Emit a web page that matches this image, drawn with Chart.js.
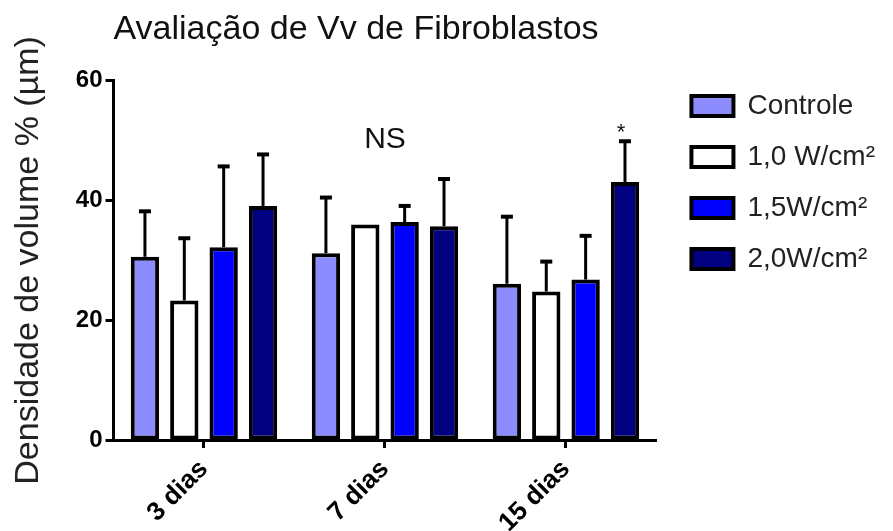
<!DOCTYPE html>
<html>
<head>
<meta charset="utf-8">
<script src="https://cdn.jsdelivr.net/npm/chart.js@4/dist/chart.umd.min.js"></script>
<style>
  html, body { margin: 0; padding: 0; background: #fff; }
  #wrap { width: 893px; height: 531px; }
</style>
</head>
<body>
<div id="wrap"><canvas id="chartFibroblastos"></canvas></div>
<script>
const dias = ['3 dias', '7 dias', '15 dias'];
const grupos = ['Controle', '1,0 W/cm²', '1,5W/cm²', '2,0W/cm²'];

// médias
const controle = [30.6, 31.2, 26.1];
const w10 = [23.3, 36.0, 24.8];
const w15 = [32.2, 36.4, 26.8];
const w20 = [39.1, 35.7, 43.1];

// desvio (só a parte de cima)
const dpControle = [7.6, 9.3, 11.2];
const dpW10 = [10.4, 0, 5.0];
const dpW15 = [13.5, 2.7, 7.3];
const dpW20 = [8.6, 7.9, 6.8];

const yTicks = [0, 20, 40, 60];

const cores = ['#8c8cff', '#ffffff', '#0000ff', '#000080'];
const fonte = "'Liberation Sans', Arial, sans-serif";

const errorBars = {
    id: 'errorBars',
    afterDatasetsDraw(chart) {
        const { ctx } = chart;
        const y = chart.scales.y;
        chart.data.datasets.forEach((ds, i) => {
            const meta = chart.getDatasetMeta(i);
            meta.data.forEach((bar, j) => {
                const sd = ds.erros[j];
                if (!sd) return;
                const topo = y.getPixelForValue(ds.data[j] + sd);
                ctx.save();
                ctx.strokeStyle = '#000';
                ctx.lineWidth = 3;
                ctx.beginPath();
                ctx.moveTo(bar.x, bar.y);
                ctx.lineTo(bar.x, topo);
                ctx.stroke();
                ctx.lineWidth = 4;
                ctx.beginPath();
                ctx.moveTo(bar.x - 6, topo);
                ctx.lineTo(bar.x + 6, topo);
                ctx.stroke();
                ctx.restore();
            });
        });
    }
};

const anotacoes = {
    id: 'anotacoes',
    afterDatasetsDraw(chart) {
        const { ctx } = chart;
        const x = chart.scales.x;
        const y = chart.scales.y;
        ctx.save();
        ctx.fillStyle = '#111';
        ctx.textAlign = 'center';
        ctx.textBaseline = 'middle';
        ctx.font = '30px ' + fonte;
        ctx.fillText('NS', x.getPixelForValue(1), y.getPixelForValue(50.2));

        const bar = chart.getDatasetMeta(3).data[2];
        const topo = y.getPixelForValue(w20[2] + dpW20[2]);
        ctx.font = '22px ' + fonte;
        ctx.textBaseline = 'alphabetic';
        ctx.fillText('*', bar.x - 4, topo - 2);
        ctx.restore();
    }
};

// legenda mais larga (afasta o gráfico) e depois empurrada para a direita
const ajusteLegenda = {
    id: 'ajusteLegenda',
    beforeLayout(chart) {
        const lg = chart.legend;
        if (!lg || lg._ajustada) return;
        lg._ajustada = true;
        const fitOriginal = lg.fit;
        lg.fit = function () {
            fitOriginal.call(this);
            this.width += 20;
        };
    },
    afterLayout(chart) {
        const lg = chart.legend;
        if (!lg) return;
        lg.left += 12;
        lg.right += 12;
    }
};

const series = [controle, w10, w15, w20];
const erros = [dpControle, dpW10, dpW15, dpW20];

new Chart(document.getElementById('chartFibroblastos'), {
    type: 'bar',
    data: {
        labels: dias,
        datasets: grupos.map((g, i) => ({
            label: g,
            data: series[i],
            erros: erros[i],
            backgroundColor: cores[i],
            borderColor: '#000',
            borderWidth: 4,
            borderSkipped: false,
            barPercentage: 0.72,
            categoryPercentage: 0.87
        }))
    },
    options: {
        responsive: true,
        maintainAspectRatio: false,
        animation: false,
        layout: { padding: { left: 8, bottom: 0, right: 0 } },
        plugins: {
            title: {
                display: true,
                text: 'Avaliação de Vv de Fibroblastos',
                align: 'start',
                fullSize: false,
                color: '#111',
                font: { family: fonte, size: 34, weight: 'normal' },
                padding: { top: 9, bottom: 31 }
            },
            legend: {
                position: 'right',
                align: 'start',
                title: {
                    display: true,
                    text: '',
                    font: { size: 10 },
                    padding: { top: 0, bottom: 57 }
                },
                labels: {
                    boxWidth: 42,
                    boxHeight: 20,
                    padding: 23,
                    color: '#222',
                    font: { family: fonte, size: 28 }
                }
            },
            tooltip: { enabled: false }
        },
        scales: {
            x: {
                offset: true,
                afterFit: axis => { axis.height = 91; },
                grid: {
                    display: true,
                    offset: false,
                    drawOnChartArea: false,
                    drawTicks: true,
                    tickLength: 8,
                    tickWidth: 3,
                    tickColor: '#000'
                },
                border: { display: true, color: '#000', width: 3 },
                ticks: {
                    color: '#000',
                    maxRotation: 45,
                    minRotation: 45,
                    padding: 6,
                    font: { family: fonte, size: 26, weight: 'bold' }
                }
            },
            y: {
                min: 0,
                max: 60,
                afterBuildTicks: axis => {
                    axis.ticks = yTicks.map(v => ({ value: v }));
                },
                grid: {
                    display: true,
                    drawOnChartArea: false,
                    drawTicks: true,
                    tickLength: 8,
                    tickWidth: 3,
                    tickColor: '#000'
                },
                border: { display: true, color: '#000', width: 3 },
                ticks: {
                    color: '#000',
                    padding: 3,
                    font: { family: fonte, size: 24, weight: 'bold' }
                },
                title: {
                    display: true,
                    text: 'Densidade de volume % (µm)',
                    color: '#222',
                    font: { family: fonte, size: 34 },
                    padding: { top: 0, bottom: 24 }
                }
            }
        }
    },
    plugins: [errorBars, anotacoes, ajusteLegenda]
});
</script>
</body>
</html>
